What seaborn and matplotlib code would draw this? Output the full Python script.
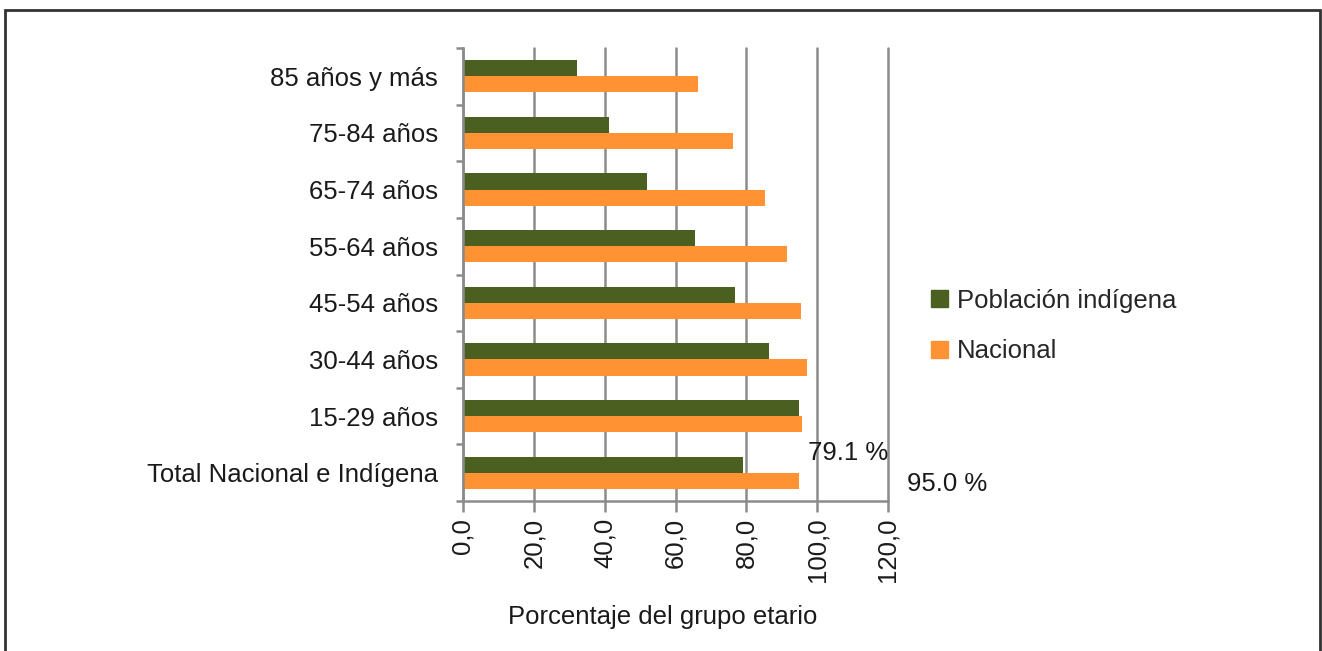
import numpy as np
import pandas as pd
import matplotlib
matplotlib.use("Agg")
import matplotlib.pyplot as plt
import matplotlib.patches as mpatches
import seaborn as sns

categories = ["85 años y más", "75-84 años", "65-74 años", "55-64 años",
              "45-54 años", "30-44 años", "15-29 años", "Total Nacional e Indígena"]
indigena = [32.1, 41.1, 51.9, 65.6, 76.9, 86.3, 95.0, 79.1]
nacional = [66.3, 76.2, 85.3, 91.6, 95.3, 97.0, 95.7, 95.0]
series_names = ["Población indígena", "Nacional"]
xticks = [0, 20, 40, 60, 80, 100, 120]
xtick_labels = ["0,0", "20,0", "40,0", "60,0", "80,0", "100,0", "120,0"]

df = pd.DataFrame({
    "cat": categories * 2,
    "val": indigena + nacional,
    "serie": [series_names[0]] * len(categories) + [series_names[1]] * len(categories),
})

sns.set_style("white")
plt.rcParams["font.family"] = ["Liberation Sans", "DejaVu Sans"]

W, H = 1322, 651
fs = 18.5
fig = plt.figure(figsize=(W / 100, H / 100), dpi=100)
ax = fig.add_axes([463 / W, 1 - 501 / H, (888 - 463) / W, (501 - 48) / H])

green = "#4B6020"
orange = "#FF9333"
txt_c = "#1a1a1a"
sns.barplot(data=df, y="cat", x="val", hue="serie", order=categories,
            hue_order=series_names, palette=[green, orange], orient="h",
            width=0.57, gap=0, ax=ax, linewidth=0, saturation=1)

ax.set_xlim(0, 120)
ax.set_ylim(len(categories) - 0.5, -0.5)
grid_c = "#8C8C8C"
ax.set_xticks(xticks)
ax.set_xticklabels(xtick_labels, rotation=90, fontsize=fs, color=txt_c)
ax.xaxis.grid(True, color=grid_c, linewidth=1.8)
ax.yaxis.grid(False)
ax.set_axisbelow(True)
ax.tick_params(axis="x", which="major", bottom=True, length=8, width=1.8,
               color=grid_c, direction="out", pad=4)
for t in ax.xaxis.get_major_ticks():
    t.gridline.set_clip_on(False)
ax.set_yticks(range(len(categories)))
ax.set_yticklabels(categories, fontsize=fs, color=txt_c)
ax.tick_params(axis="y", which="major", left=False, length=0, pad=18)
ax.set_yticks(np.arange(-0.5, len(categories)), minor=True)
ax.tick_params(axis="y", which="minor", left=True, length=5, width=1.8,
               color=grid_c, direction="out")
for s in ["top", "right"]:
    ax.spines[s].set_visible(False)
for s in ["left", "bottom"]:
    ax.spines[s].set_color(grid_c)
    ax.spines[s].set_linewidth(1.8)

ax.set_ylabel("")
ax.set_xlabel("Porcentaje del grupo etario", fontsize=fs, color=txt_c)
ax.xaxis.set_label_coords((662.5 - 463) / 425, (501 - 605) / 453)
ax.xaxis.label.set_va("top")

# value labels of the total
ax.text(97.5, 6.65, f"{indigena[-1]:.1f} %", fontsize=fs, color=txt_c,
        va="center", ha="left", clip_on=False)
ax.text(125.4, 7.2, f"{nacional[-1]:.1f} %", fontsize=fs, color=txt_c,
        va="center", ha="left", clip_on=False)

# legend
handles = [mpatches.Patch(color=green, label=series_names[0]),
           mpatches.Patch(color=orange, label=series_names[1])]
if ax.get_legend() is not None:
    ax.get_legend().remove()
fig.legend(handles=handles, loc="center left",
           bbox_to_anchor=(931 / W, 1 - 326 / H), frameon=False, fontsize=fs,
           handlelength=0.65, handleheight=0.65, handletextpad=0.35,
           labelspacing=1.05, borderpad=0, borderaxespad=0)

# outer frame
fig.add_artist(mpatches.Rectangle((5 / W, -0.02), (1320 - 5) / W, 1 - 10 / H + 0.02,
                                  transform=fig.transFigure, fill=False,
                                  edgecolor="#333333", linewidth=2))

fig.savefig("out.png", dpi=100)
